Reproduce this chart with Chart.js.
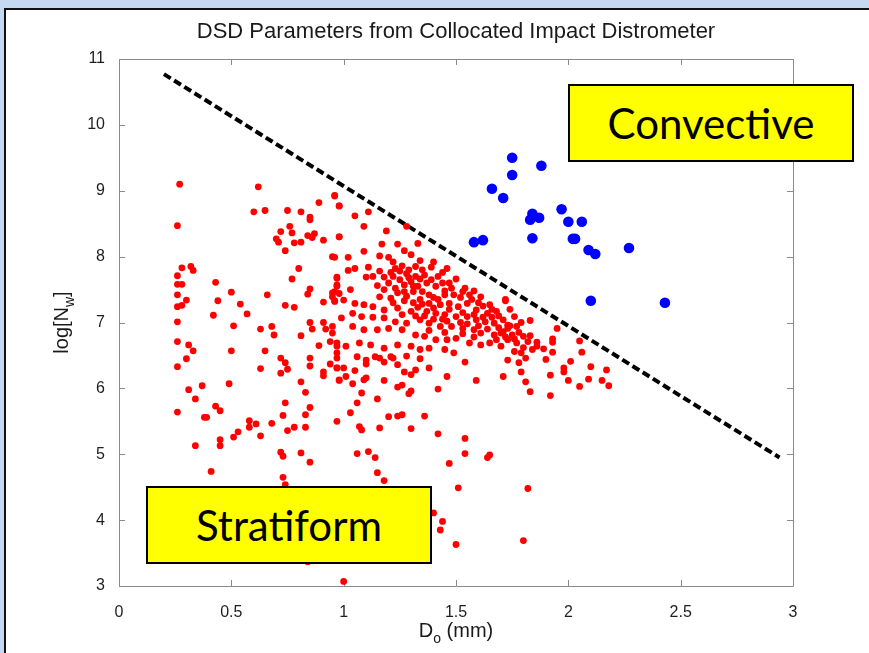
<!DOCTYPE html>
<html lang="en">
<head>
<meta charset="UTF-8">
<title>DSD Parameters from Collocated Impact Distrometer</title>
<script src="https://cdn.jsdelivr.net/npm/chart.js@4.4.1/dist/chart.umd.min.js"></script>
<style>
    html, body { margin: 0; padding: 0; }
    body {
        width: 869px;
        height: 653px;
        position: relative;
        overflow: hidden;
        background: #c6d9f0;
    }
    .panel {
        position: absolute;
        left: 4px; top: 8px; right: 0; bottom: 0;
        background: #fff;
        border-left: 2px solid #111;
        border-top: 2px solid #111;
    }
    #chartBox { position: absolute; left: 0; top: 0; width: 869px; height: 653px; }
    .tag {
        position: absolute;
        box-sizing: border-box;
        background: #ffff00;
        border: 2px solid #000;
        font-family: Lato, "Noto Sans", sans-serif;
        font-size: 42px;
        color: #000;
        display: flex;
        align-items: center;
        justify-content: center;
    }
</style>
</head>
<body>
<div class="panel"></div>
<div id="chartBox"><canvas id="dsdChart" width="869" height="653"></canvas></div>
<div class="tag" style="left:568px; top:84px; width:286px; height:78px;">Convective</div>
<div class="tag" style="left:146px; top:486px; width:286px; height:78px;">Stratiform</div>

<script>
// D0 (mm), log10(Nw)
const stratiformPoints = [
    [0.27,9.10],[0.26,8.47],[0.62,9.06],[0.60,8.68],[0.65,8.70],[0.75,8.70],[0.81,8.68],[0.96,8.92],[0.98,8.77],[0.89,8.82],
    [0.85,8.56],[0.85,8.60],[0.76,8.46],[0.72,8.38],[0.77,8.36],[0.70,8.27],[0.71,8.22],[0.74,8.09],[0.78,8.21],[0.81,8.22],
    [0.84,8.32],[0.86,8.29],[0.87,8.35],[0.91,8.25],[0.98,8.30],[0.95,8.00],[0.80,7.82],[0.77,7.66],[0.97,7.69],[0.97,7.57],
    [0.96,7.47],[0.85,7.51],[0.84,7.43],[0.95,7.39],[0.78,7.23],[0.74,7.26],[0.91,7.31],[0.96,7.33],[0.66,7.42],[0.50,7.46],
    [0.54,7.28],[0.57,7.13],[0.44,7.33],[0.43,7.61],[0.42,7.11],[0.32,7.85],[0.33,7.79],[0.28,7.83],[0.26,7.71],[0.26,7.58],
    [0.28,7.58],[0.26,7.42],[0.30,7.34],[0.26,7.24],[0.28,7.26],[0.26,7.01],[0.51,6.95],[0.63,6.90],[0.68,6.94],[0.69,6.81],
    [0.85,7.00],[0.86,6.90],[0.91,7.00],[0.92,6.90],[0.81,6.80],[0.95,6.84],
    [0.26,6.71],[0.31,6.66],[0.33,6.57],[0.26,6.33],[0.30,6.45],[0.50,6.57],[0.31,5.98],[0.34,5.84],[0.37,6.04],[0.26,5.64],
    [0.38,5.56],[0.39,5.56],[0.43,5.73],[0.45,5.66],[0.34,5.13],[0.45,5.22],[0.45,5.13],[0.41,4.74],[0.49,6.07],[0.51,5.26],
    [0.53,5.34],[0.58,5.41],[0.58,5.51],[0.61,5.46],[0.63,5.28],[0.63,6.30],[0.65,6.57],[0.68,5.47],[0.72,6.46],[0.72,6.23],
    [0.74,6.39],[0.75,6.29],[0.74,5.78],[0.73,5.59],[0.75,5.36],[0.78,5.41],[0.83,5.41],[0.83,5.60],[0.85,5.71],[0.83,5.94],
    [0.81,6.10],[0.85,6.34],[0.85,6.46],[0.89,6.65],[0.94,6.71],[0.97,6.64],[0.94,6.37],[0.97,6.31],[0.97,6.54],[0.91,6.25],
    [0.91,6.19],[0.98,6.12],[0.97,5.50],[0.72,5.03],[0.73,4.97],[0.81,5.02],[0.85,4.88],[0.73,4.65],[0.74,4.54],[0.84,3.37],
    [1.00,3.07],
    [0.96,8.93],[0.98,8.77],[1.05,8.62],[1.11,8.68],[1.09,8.46],[1.19,8.39],[0.98,8.30],[1.17,8.19],[1.24,8.19],[1.27,8.09],
    [1.33,8.20],[1.09,8.08],[1.02,7.99],[0.96,7.99],[1.16,8.01],[1.20,7.99],[1.30,8.03],[1.34,7.94],[1.40,7.92],[1.46,7.82],
    [1.11,7.84],[1.05,7.82],[1.02,7.79],[1.22,7.92],[1.23,7.82],[1.26,7.86],[1.10,7.69],[1.13,7.70],[1.18,7.69],[1.25,7.65],
    [0.97,7.67],[0.97,7.55],[1.28,7.74],[1.32,7.70],[1.36,7.72],[1.39,7.65],[1.30,7.62],[1.41,7.55],[1.44,7.60],[1.48,7.52],
    [1.53,7.47],[1.54,7.52],[1.58,7.48],[1.61,7.39],[1.65,7.27],[1.72,7.35],[1.15,7.56],[1.18,7.50],[1.23,7.52],[1.27,7.47],
    [1.31,7.47],[1.35,7.47],[1.38,7.42],[1.45,7.42],[1.03,7.50],[0.98,7.44],[0.95,7.45],[1.16,7.39],[1.21,7.37],[1.27,7.33],
    [1.34,7.35],[1.38,7.29],[1.43,7.27],[1.47,7.29],[1.51,7.24],[1.55,7.29],[1.59,7.19],[1.64,7.14],[1.68,7.17],[1.71,7.04],
    [1.67,6.99],[1.63,7.01],[1.59,7.04],[1.55,7.09],[1.50,7.09],[1.45,7.12],[1.41,7.14],[1.37,7.17],[1.33,7.23],[1.30,7.17],
    [1.24,7.22],[1.18,7.19],[1.13,7.24],[1.09,7.27],[1.05,7.29],[1.00,7.34],[0.96,7.32],[1.04,7.14],[1.08,7.09],[1.13,7.08],
    [1.18,7.07],[1.23,7.01],[1.28,6.99],[1.34,7.04],[1.38,6.99],[1.43,6.94],[1.48,6.94],[1.53,6.91],[1.58,6.89],[1.61,6.84],
    [1.67,6.81],[1.70,6.84],[1.73,6.91],[0.99,7.07],[0.95,6.94],[1.04,6.94],[1.09,6.89],[1.15,6.89],[1.20,6.91],[1.26,6.89],
    [1.32,6.81],[1.36,6.79],[1.41,6.74],[1.46,6.74],[1.50,6.76],[1.56,6.69],[1.61,6.66],[1.65,6.69],[1.70,6.64],[0.97,6.69],
    [1.01,6.64],[1.07,6.69],[1.12,6.66],[1.18,6.61],[1.24,6.66],[1.30,6.64],[1.34,6.59],[1.38,6.61],[1.45,6.59],[1.49,6.54],
    [1.14,6.48],[1.21,6.48],[1.28,6.49],[1.28,8.46],
    [1.25,7.78],[1.32,7.85],[1.37,7.60],[1.42,7.70],[1.47,7.60],[1.52,7.38],[1.57,7.35],[1.62,7.25],[1.66,7.08],[1.74,6.95],
    [1.78,6.85],[1.76,6.75],[1.60,6.95],[1.52,7.00],[1.44,7.05],[1.36,7.10],[1.40,7.38],[1.33,7.55],[1.27,7.57],[1.20,7.60],
    [1.16,7.78],[1.22,7.70],
    [1.21,7.76],[1.29,7.80],[1.35,7.80],[1.39,7.84],[1.44,7.76],[1.50,7.66],[1.34,7.66],[1.29,7.68],[1.24,7.45],[1.31,7.55],
    [1.45,7.48],[1.49,7.42],[1.56,7.42],[1.60,7.30],[1.66,7.20],[1.69,7.10],[1.42,7.35],[1.47,7.20],[1.53,7.15],[1.58,7.12],
    [1.62,7.08],[1.40,7.22],[1.35,7.28],[1.31,7.30],[1.26,7.12],[1.32,7.10],[1.40,7.05],[1.46,7.02],[1.55,6.98],[1.64,6.90],
    [1.69,6.92],[1.72,6.78],[1.68,6.74],[1.58,6.78],[1.53,6.83],[1.45,6.85],[1.38,6.88],[1.28,7.40],[1.22,7.30],[1.86,6.70],
    [1.80,6.62],[1.83,6.80],[1.74,7.20],[1.79,7.00],
    [1.72,7.33],[1.76,7.09],[1.83,7.03],[1.73,6.96],[1.77,6.94],[1.71,6.86],[1.75,6.81],[1.80,6.79],[1.82,6.71],[1.73,6.74],
    [1.77,6.69],[1.86,6.64],[1.89,6.60],[1.84,6.59],[1.79,6.54],[1.76,6.56],[1.73,6.43],[1.78,6.39],[1.81,6.46],[1.90,6.44],
    [1.95,6.91],[1.93,6.75],[1.93,6.70],[1.93,6.55],[2.05,6.72],[2.06,6.55],[2.01,6.41],[1.98,6.31],[1.98,6.25],[2.10,6.33],
    [2.17,6.28],[1.71,6.18],[1.79,6.25],[1.92,6.20],[2.00,6.12],[2.09,6.14],[2.15,6.12],[1.81,6.10],[2.05,6.03],[2.18,6.04],
    [1.83,5.95],[1.92,5.89],
    [0.97,6.46],[1.06,6.48],[1.10,6.43],[1.16,6.46],[1.18,6.40],[1.22,6.46],[1.24,6.36],[1.34,6.45],[0.97,6.31],[1.00,6.31],
    [1.05,6.27],[1.10,6.37],[1.27,6.25],[1.30,6.21],[1.32,6.28],[1.38,6.31],[0.98,6.13],[1.01,6.18],[1.09,6.13],[1.10,6.16],
    [1.18,6.12],[1.04,6.07],[1.24,6.02],[1.26,6.05],[1.29,5.92],[1.30,5.96],[1.42,5.99],[1.46,6.18],[1.54,6.40],[1.59,6.12],
    [1.08,5.93],[1.15,5.84],[1.06,5.78],[1.03,5.63],[1.20,5.57],[1.24,5.58],[1.26,5.60],[1.36,5.58],[1.07,5.42],[1.08,5.37],
    [1.16,5.40],[1.30,5.39],[1.42,5.31],[1.54,5.24],[1.06,5.01],[1.11,5.04],[1.14,4.95],[1.54,5.01],[1.65,4.99],[1.64,4.95],
    [1.47,4.86],[1.15,4.72],[1.18,4.60],[1.51,4.49],[1.82,4.48],[1.40,4.11],[1.44,3.98],[1.43,3.85],[1.50,3.63],[1.80,3.69]
];

const convectivePoints = [
    [1.58,8.22],[1.62,8.25],[1.66,9.03],[1.71,8.89],[1.75,9.50],[1.75,9.24],[1.88,9.38],[1.83,8.56],[1.84,8.65],[1.87,8.59],
    [1.84,8.28],[1.97,8.72],[2.00,8.53],[2.06,8.53],[2.02,8.27],[2.03,8.27],[2.09,8.10],[2.12,8.04],[2.27,8.13],[2.10,7.33],
    [2.43,7.30]
];

// dashed separation line end points
const separatorX = [0.20, 2.94];
const separatorY = [10.77, 4.95];

const xTickValues = [0, 0.5, 1, 1.5, 2, 2.5, 3];
const xTickLabels = ['0', '0.5', '1', '1.5', '2', '2.5', '3'];
const yTickValues = [3, 4, 5, 6, 7, 8, 9, 10, 11];
const yTickLabels = ['3', '4', '5', '6', '7', '8', '9', '10', '11'];

const chartTitle = 'DSD Parameters from Collocated Impact Distrometer';
const xTitleParts = [{ t: 'D' }, { t: 'o', sub: true }, { t: ' (mm)' }];
const yTitleParts = [{ t: 'log[N' }, { t: 'w', sub: true }, { t: ']' }];

const FONT = '"Liberation Sans", Arial, sans-serif';
const AXIS_GREY = '#8a8a8a';

// MATLAB style box with inward ticks
const boxPlugin = {
    id: 'matlabBox',
    beforeDatasetsDraw(chart) {
        const { ctx, chartArea: a, scales } = chart;
        const len = 6;
        ctx.save();
        ctx.strokeStyle = AXIS_GREY;
        ctx.lineWidth = 1;
        ctx.beginPath();
        ctx.rect(Math.round(a.left) + 0.5, Math.round(a.top) + 0.5,
                 Math.round(a.right - a.left), Math.round(a.bottom - a.top));
        xTickValues.forEach(v => {
            const px = Math.round(scales.x.getPixelForValue(v)) + 0.5;
            ctx.moveTo(px, a.bottom); ctx.lineTo(px, a.bottom - len);
            ctx.moveTo(px, a.top); ctx.lineTo(px, a.top + len);
        });
        yTickValues.forEach(v => {
            const py = Math.round(scales.y.getPixelForValue(v)) + 0.5;
            ctx.moveTo(a.left, py); ctx.lineTo(a.left + len, py);
            ctx.moveTo(a.right, py); ctx.lineTo(a.right - len, py);
        });
        ctx.stroke();
        ctx.restore();
    }
};

function drawRich(ctx, parts, cx, baseY, size) {
    let total = 0;
    parts.forEach(p => {
        ctx.font = (p.sub ? Math.round(size * 0.72) : size) + 'px ' + FONT;
        p.w = ctx.measureText(p.t).width;
        total += p.w;
    });
    let x = cx - total / 2;
    parts.forEach(p => {
        ctx.font = (p.sub ? Math.round(size * 0.72) : size) + 'px ' + FONT;
        ctx.fillText(p.t, x, baseY + (p.sub ? size * 0.32 : 0));
        x += p.w;
    });
}

// axis titles need subscripts, so draw them here
const axisTitlePlugin = {
    id: 'axisTitles',
    afterDraw(chart) {
        const { ctx, chartArea: a } = chart;
        ctx.save();
        ctx.fillStyle = '#1a1a1a';
        ctx.textBaseline = 'alphabetic';
        ctx.textAlign = 'left';
        drawRich(ctx, xTitleParts, (a.left + a.right) / 2, 637, 20);
        ctx.translate(68, (a.top + a.bottom) / 2);
        ctx.rotate(-Math.PI / 2);
        drawRich(ctx, yTitleParts, 0, 0, 20);
        ctx.restore();
    }
};

const ctx = document.getElementById('dsdChart').getContext('2d');

new Chart(ctx, {
    type: 'scatter',
    data: {
        datasets: [
            {
                label: 'Stratiform',
                data: stratiformPoints.map(p => ({ x: p[0], y: p[1] })),
                backgroundColor: '#ff0000',
                borderWidth: 0,
                pointRadius: 3.4,
                order: 1
            },
            {
                label: 'Convective',
                data: convectivePoints.map(p => ({ x: p[0], y: p[1] })),
                backgroundColor: '#0000ff',
                borderWidth: 0,
                pointRadius: 5.3,
                order: 2
            },
            {
                label: 'Separator',
                data: separatorX.map((x, i) => ({ x: x, y: separatorY[i] })),
                showLine: true,
                borderColor: '#000',
                borderWidth: 4,
                borderDash: [8, 4],
                borderCapStyle: 'butt',
                pointRadius: 0,
                order: 3
            }
        ]
    },
    options: {
        responsive: false,
        animation: false,
        events: [],
        layout: { padding: { left: 0, right: 76, top: 0, bottom: 0 } },
        plugins: {
            legend: { display: false },
            tooltip: { enabled: false },
            title: {
                display: true,
                fullSize: false,
                text: chartTitle,
                color: '#1a1a1a',
                font: { family: FONT, size: 22, weight: 'normal', lineHeight: 1.2 },
                padding: { top: 19, bottom: 13.6 }
            }
        },
        scales: {
            x: {
                type: 'linear',
                min: 0,
                max: 3,
                grid: { display: false },
                border: { display: false },
                ticks: {
                    stepSize: 0.5,
                    padding: 9,
                    color: '#1f1f1f',
                    font: { family: FONT, size: 16 },
                    callback: v => {
                        const i = xTickValues.indexOf(v);
                        return i >= 0 ? xTickLabels[i] : '';
                    }
                },
                afterFit: s => { s.height = 67; }
            },
            y: {
                type: 'linear',
                min: 3,
                max: 11,
                grid: { display: false },
                border: { display: false },
                ticks: {
                    stepSize: 1,
                    padding: 6,
                    color: '#1f1f1f',
                    font: { family: FONT, size: 16 },
                    callback: v => {
                        const i = yTickValues.indexOf(v);
                        return i >= 0 ? yTickLabels[i] : '';
                    }
                },
                afterFit: s => { s.width = 119; }
            }
        }
    },
    plugins: [boxPlugin, axisTitlePlugin]
});
</script>
</body>
</html>
